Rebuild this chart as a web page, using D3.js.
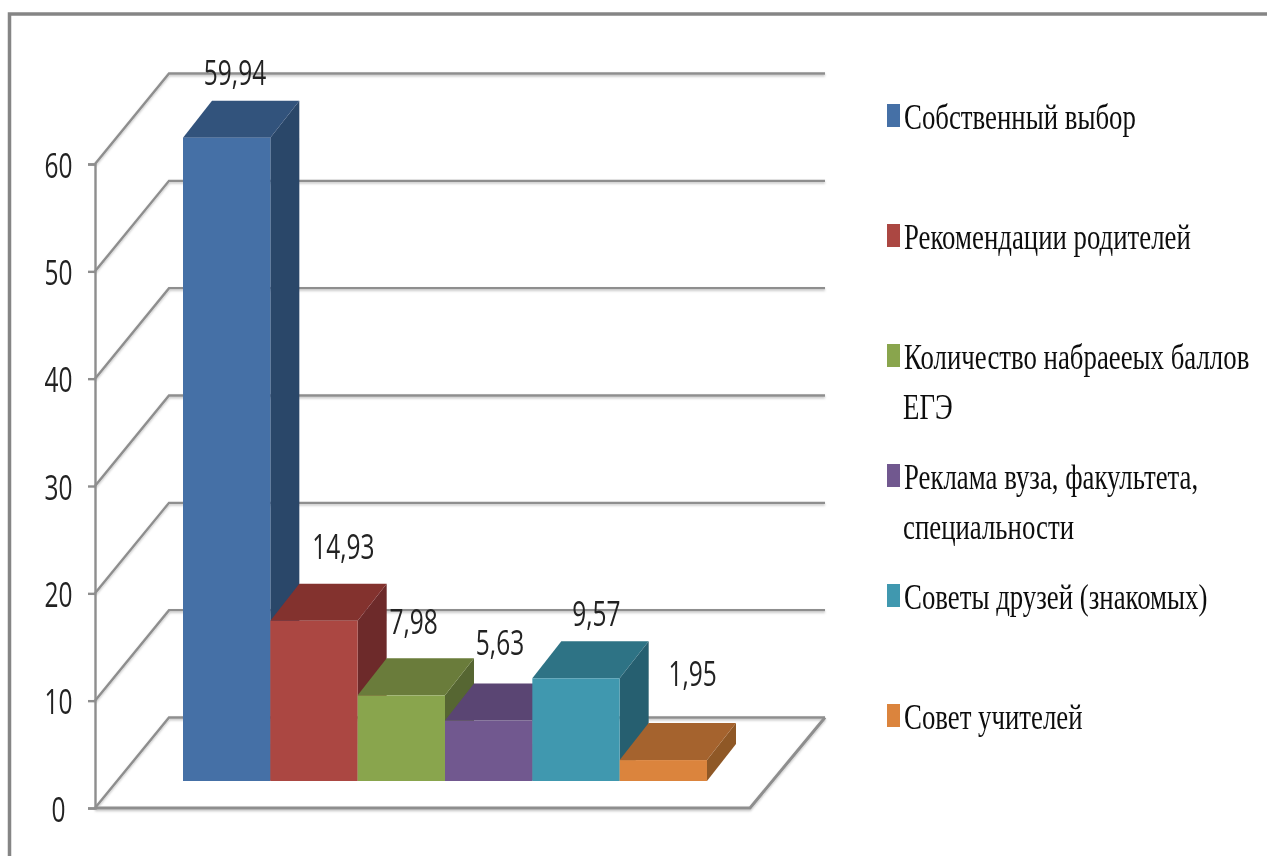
<!DOCTYPE html>
<html><head><meta charset="utf-8">
<script src="https://cdn.jsdelivr.net/npm/d3@7"></script>
<style>html,body{margin:0;padding:0;background:#fff;overflow:hidden}svg{display:block}</style>
</head><body><svg id="c" width="1267" height="856"></svg>
<script>
const categories = ["Собственный выбор","Рекомендации родителей","Количество набраееых баллов","Реклама вуза, факультета,","Советы друзей (знакомых)","Совет учителей"];
const continuation = ["","","ЕГЭ","специальности","",""];
const values = [59.94,14.93,7.98,5.63,9.57,1.95];
const valueLabels = ["59,94","14,93","7,98","5,63","9,57","1,95"];
const axisTicks = [0,10,20,30,40,50,60];
const frontColors = ["#4470a6","#ab4643","#89a54e","#71588f","#4198af","#db843d"];
const topColors = ["#33527c","#83302f","#6a7c3a","#5a4473","#2f7385","#a5632d"];
const sideColors = ["#2a4669","#6d2b2a","#566630","#4d3b63","#285f6f","#8f5827"];

const W=1267,H=856;
const svg=d3.select("#c");
const defs=svg.append("defs");
defs.append("filter").attr("id","soft").attr("x","-5%").attr("y","-5%").attr("width","110%").attr("height","110%")
  .append("feGaussianBlur").attr("stdDeviation",0.6);
const shadow=defs.append("filter").attr("id","shadow").attr("x","-5%").attr("y","-5%").attr("width","110%").attr("height","110%");
shadow.append("feDropShadow").attr("dx",0).attr("dy",1.5).attr("stdDeviation",0.8).attr("flood-color","#000").attr("flood-opacity",0.25);
const root=svg.append("g").attr("filter","url(#soft)");

// frame
root.append("path").attr("d",`M9.5,${H} V14 H${W}`).attr("fill","none").attr("stroke","#858585").attr("stroke-width",3.5);

const y=d3.scaleLinear().domain([0,60]).range([808,164]);
const wallX=95, backDx=74, backDy=-90.5, floorW=655;
const barPlaneDy=-27, barDx=29, barDy=-37;
const x=d3.scaleBand().domain(categories).range([183,707]).padding(0);

// gridlines and floor
const grid=root.append("g").attr("fill","none").attr("stroke","#8e8e8e").attr("stroke-width",2.4).attr("filter","url(#shadow)");
grid.selectAll("path.g").data(axisTicks).join("path").attr("class","g")
  .attr("d",d=>d3.line()([[wallX,y(d)],[wallX+backDx,y(d)+backDy],[wallX+backDx+floorW+1,y(d)+backDy]]));
grid.append("path").attr("d",d3.line()([[wallX+backDx+floorW+1,y(0)+backDy],[wallX+floorW,y(0)],[wallX,y(0)]]))
  .attr("stroke-width",3);

// value axis
const axis=d3.axisLeft(y).tickValues(axisTicks).tickSize(7).tickPadding(13).tickFormat(d3.format("d"));
const ag=root.append("g").attr("transform",`translate(${wallX},0)`).call(axis);
ag.selectAll("path,line").attr("stroke","#8e8e8e").attr("stroke-width",2.4);
ag.selectAll("text").attr("fill","#222").attr("font-family","'Open Sans',sans-serif")
  .each(function(d){
    d3.select(this).attr("x",null).attr("dy",null).attr("text-anchor","middle")
      .attr("font-size",35)
      .attr("transform",`translate(-36.5,13) scale(0.7,1)`);
  });

// bars
const bars=root.append("g").selectAll("g").data(categories).join("g");
const base=y(0)+barPlaneDy;
const h=i=>y(0)-y(values[i]);
bars.append("path").attr("fill",(d,i)=>sideColors[i]).attr("d",(d,i)=>{
  const r=x(d)+x.bandwidth(),t=base-h(i);
  return d3.line()([[r,t],[r+barDx,t+barDy],[r+barDx,base+barDy],[r,base]])+"Z";});
bars.append("path").attr("fill",(d,i)=>topColors[i]).attr("d",(d,i)=>{
  const l=x(d),r=l+x.bandwidth(),t=base-h(i);
  return d3.line()([[l,t],[l+barDx,t+barDy],[r+barDx,t+barDy],[r,t]])+"Z";});
bars.append("rect").attr("x",d=>x(d)).attr("width",x.bandwidth())
  .attr("y",(d,i)=>base-h(i)).attr("height",(d,i)=>h(i)).attr("fill",(d,i)=>frontColors[i]);

// value labels
const labelDx=[52,73,56,55,64,73], labelDy=[66,75,74,79,65,87];
root.append("g").selectAll("text").data(valueLabels).join("text").text(d=>d)
  .attr("fill","#222").attr("font-family","'Open Sans',sans-serif").attr("font-size",35).attr("text-anchor","middle")
  .attr("transform",(d,i)=>{
    const c=x(categories[i]);
    return `translate(${c+labelDx[i]},${base-h(i)-labelDy[i]+13}) scale(0.7,1)`;
  });

// legend
const ly=d3.scalePoint().domain(categories).range([115,715]);
const lg=root.append("g").selectAll("g").data(categories).join("g").attr("transform",d=>`translate(887,${ly(d)})`);
lg.append("rect").attr("y",-11).attr("width",13).attr("height",23).attr("fill",(d,i)=>frontColors[i]);
const tx=(dx,dy)=>`translate(${dx},${dy}) scale(0.745,1)`;
lg.append("text").text(d=>d)
  .attr("font-family","'Liberation Serif',serif").attr("font-size",36).attr("fill","#111")
  .attr("transform",tx(17,14));
lg.append("text").text((d,i)=>continuation[i])
  .attr("font-family","'Liberation Serif',serif").attr("font-size",36).attr("fill","#111")
  .attr("transform",tx(16,64));
</script></body></html>
